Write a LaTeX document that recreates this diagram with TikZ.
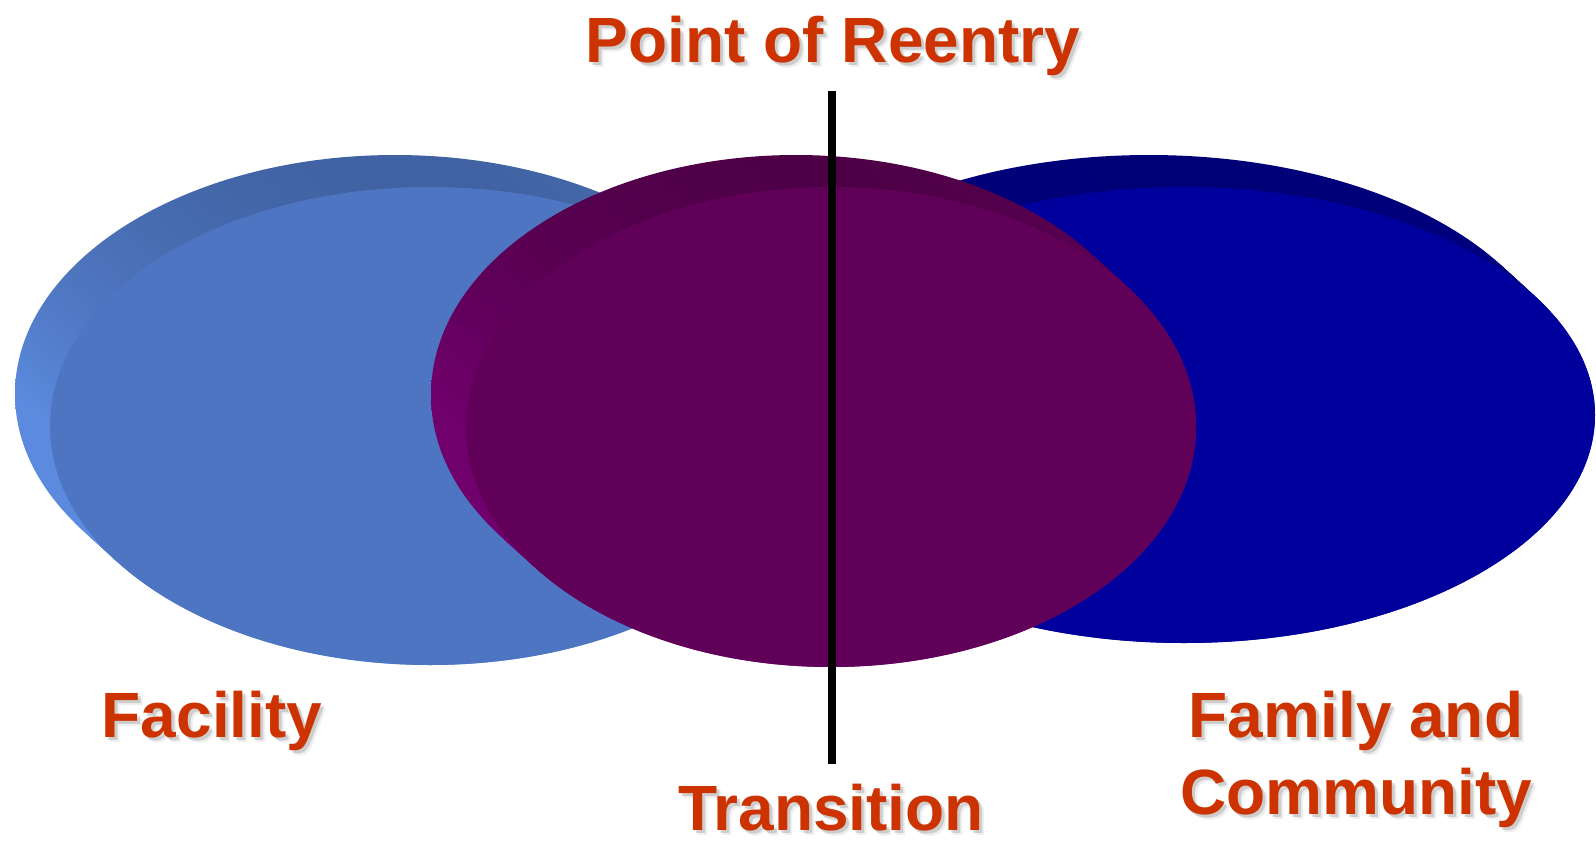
\documentclass[tikz,border=0pt]{standalone}
\usepackage{fontspec}
\setmainfont{Liberation Sans}
\usetikzlibrary{calc}
\definecolor{reentryred}{RGB}{204,51,0}
\definecolor{facfront}{RGB}{77,117,194}
\definecolor{factop}{RGB}{64,98,162}
\definecolor{facside}{RGB}{92,138,222}
\definecolor{trnfront}{RGB}{97,0,89}
\definecolor{trntop}{RGB}{78,0,70}
\definecolor{trnside}{RGB}{112,0,108}
\definecolor{comfront}{RGB}{0,0,156}
\definecolor{comtop}{RGB}{0,0,118}
\definecolor{comside}{RGB}{0,0,146}

\tikzset{
  lbl/.style={font=\fontsize{18.2}{22}\selectfont\bfseries, text=reentryred, inner sep=0pt, anchor=base},
  lblshadow/.style={lbl, text=black!50, opacity=0.3, xshift=0.3mm, yshift=-0.3mm},
  lblhalo/.style={lbl, text=black!40, opacity=0.15, xshift=0.5mm, yshift=-0.5mm},
  divider/.style={line width=0.8mm},
  facrim/.style={top color=factop, bottom color=facside, middle color=facside},
  trnrim/.style={top color=trntop, bottom color=trnside, middle color=trnside},
  comrim/.style={top color=comtop, bottom color=comside, middle color=comside},
}

% tilted disc: centre, x radius, y radius, rim style, face colour
\newcommand{\disc}[5]{%
  \foreach \k in {0,...,14}
    \shade[#4] ($(#1)+({-35*(1-\k/14)},{-32*(1-\k/14)})$) ellipse [x radius=#2, y radius=#3];
  \fill[#5] (#1) ellipse [x radius=#2, y radius=#3];
}
% label with soft drop shadow
\newcommand{\reentrylabel}[3]{%
  \node[lblhalo] at (#2) {#3};
  \node[lblshadow] at (#2) {#3};
  \node[lbl] (#1) at (#2) {#3};
}

\begin{document}
\begin{tikzpicture}[x=0.01cm,y=-0.01cm]
\useasboundingbox (0,0) rectangle (1596,842);
\fill[white] (0,0) rectangle (1596,842);

\disc{430,426}{380}{239}{facrim}{facfront}
\disc{1184,415}{411}{228}{comrim}{comfront}
\disc{831,427}{365}{240}{trnrim}{trnfront}

\coordinate (cut top) at (832,91);
\coordinate (cut bot) at (832,764);
\draw[divider] (cut top) -- (cut bot);

\reentrylabel{reentry}{833,62}{Point of Reentry}
\reentrylabel{facility}{212,737}{Facility}
\reentrylabel{family}{1356,737}{Family and}
\reentrylabel{community}{1356,814}{Community}
\reentrylabel{transition}{831,830}{Transition}
\end{tikzpicture}
\end{document}
